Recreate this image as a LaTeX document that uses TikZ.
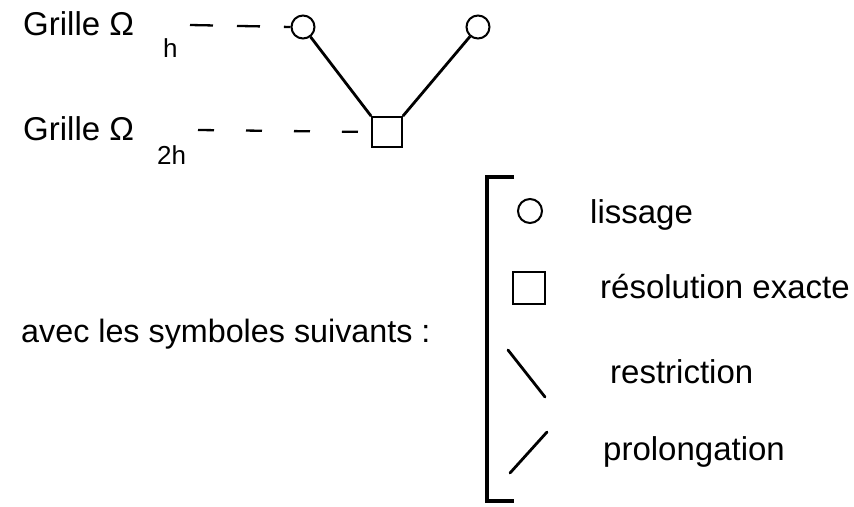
\documentclass[tikz,border=0pt]{standalone}
\usepackage{fontspec}
\setmainfont{Liberation Sans}
\begin{document}
\begin{tikzpicture}[x=1pt,y=-1pt,
  lbl/.style={anchor=base west,inner sep=0pt,font=\fontsize{33}{33}\selectfont},
  sub/.style={anchor=base west,inner sep=0pt,font=\fontsize{26}{26}\selectfont},
  smooth/.style={circle,draw,line width=2pt,minimum size=23pt,inner sep=0pt},
  exact/.style={rectangle,draw,line width=1.8pt,minimum size=30pt,inner sep=0pt},
  conn/.style={line width=2.8pt},
  gridline/.style={line width=2.3pt}]
\useasboundingbox (0,0) rectangle (854,506);
% top part
\node[lbl] (g1) at (23,35) {Grille Ω};
\node[sub] (h1) at (163,57) {h};
\node[lbl] (g2) at (23,140) {Grille Ω};
\node[sub] (h2) at (157,164) {2h};
\node[smooth] (c1) at (303,27) {};
\node[smooth] (c2) at (478,27) {};
\node[exact] (sq) at (387,132) {};
\coordinate (d1) at (190,25);
\coordinate (d2) at (198,130);
\draw[gridline,dash pattern=on 23pt off 24pt] (d1) -- (c1.west);
\draw[gridline,dash pattern=on 16pt off 32pt] (d2) -- (sq.west);
\draw[conn] (c1) -- (sq.north west);
\draw[conn] (sq.north east) -- (c2);
% legend
\node[lbl,font=\fontsize{32.3}{33}\selectfont] (avec) at (21,342) {avec les symboles suivants :};
\coordinate (b1) at (514,177);
\coordinate (b2) at (487,177);
\coordinate (b3) at (487,501);
\coordinate (b4) at (514,501);
\draw[line width=4pt] (b1) -- (b2) -- (b3) -- (b4);
\node[smooth,minimum size=24pt] (L1) at (530,211) {};
\node[lbl] (t1) at (590,223) {lissage};
\node[exact,minimum size=32pt] (L2) at (529,288) {};
\node[lbl] (t2) at (600,298) {résolution exacte};
\coordinate (r1) at (508,350);
\coordinate (r2) at (545,397);
\draw[conn,line cap=round] (r1) -- (r2);
\node[lbl] (t3) at (610,383) {restriction};
\coordinate (p1) at (510,473);
\coordinate (p2) at (547,432);
\draw[conn,line cap=round] (p1) -- (p2);
\node[lbl] (t4) at (603,460) {prolongation};
\end{tikzpicture}
\end{document}
